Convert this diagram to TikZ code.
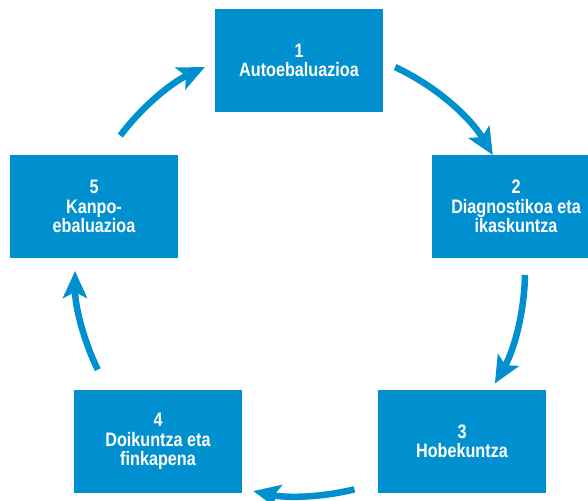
\documentclass[tikz,border=0pt]{standalone}
\usepackage{fontspec}
\setmainfont{Liberation Sans}[FakeStretch=0.83]
\usetikzlibrary{arrows.meta,calc}
\definecolor{cycleblue}{RGB}{0,144,208}
\tikzstyle{stage} = [rectangle, minimum width=168pt, minimum height=103pt, inner sep=0pt, align=center, fill=cycleblue, text=white, font=\bfseries\fontsize{19.5}{19.5}\selectfont]
\tikzstyle{arrow} = [draw=cycleblue, line width=6.5pt, -{Stealth[length=27pt, width=24pt, inset=6pt]}]

\begin{document}
\begin{tikzpicture}[x=1pt, y=1pt]

\useasboundingbox (0,0) rectangle (588,500);

\node (auto) [stage] at (299,439.5) {1\\Autoebaluazioa};
\node (diag) [stage] at (516,293.5) {2\\Diagnostikoa eta\\ikaskuntza};
\node (hobe) [stage] at (462,58.5) {3\\Hobekuntza};
\node (doik) [stage] at (158,58.5) {4\\Doikuntza eta\\finkapena};
\node (kanpo) [stage] at (94,293.5) {5\\Kanpo-\\ebaluazioa};

\coordinate (hub) at (300,229);

\foreach \a/\b [count=\i] in {65/31,-1/-30,-76/-102,-154/-180,143/115}
{
  \coordinate (tail\i) at ($(hub)+(\a:225)$);
  \draw [arrow] (tail\i) arc [start angle=\a, end angle=\b, radius=225];
}

\end{tikzpicture}
\end{document}
